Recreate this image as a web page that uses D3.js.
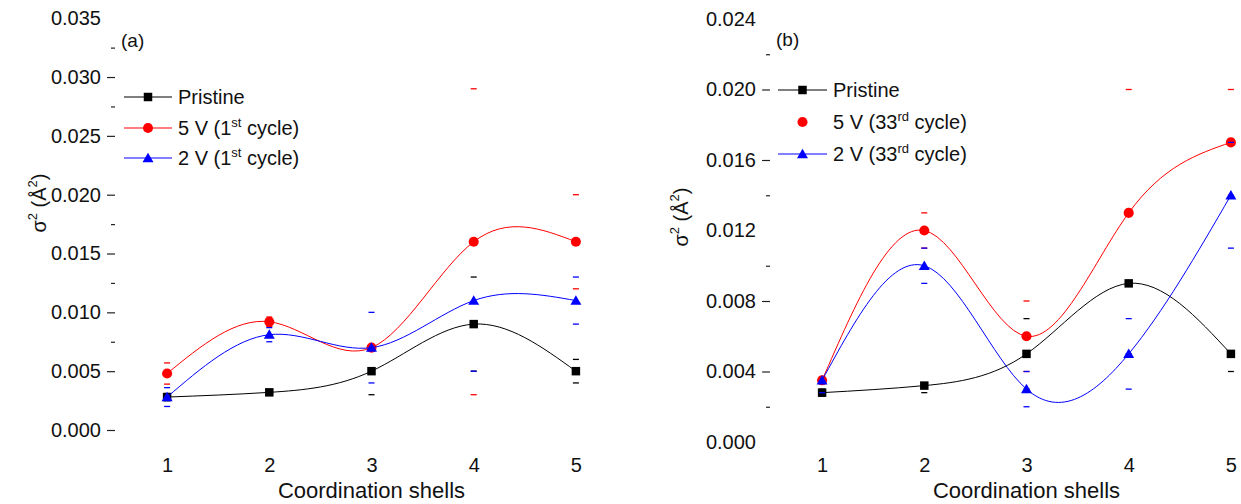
<!DOCTYPE html>
<html>
<head>
<meta charset="utf-8">
<script src="https://cdn.jsdelivr.net/npm/d3@7"></script>
<style>
  body { margin: 0; background: #fff; }
  text { font-family: "Liberation Sans", Arial, sans-serif; fill: #111; }
</style>
</head>
<body>
<svg id="chart" width="1241" height="504"></svg>
<script>
// Coordination shells (x categories)
const shells = [1, 2, 3, 4, 5];

// Panel (a): first cycle
const pristineA    = [0.0028, 0.0032, 0.0050, 0.0090, 0.0050];
const pristineErrA = [0.0003, 0.0002, 0.0020, 0.0040, 0.0010];
const v5A          = [0.0048, 0.0092, 0.0070, 0.0160, 0.0160];
const v5ErrLoA     = [0.0009, 0.0004, 0.0002, 0.0130, 0.0040];
const v5ErrHiA     = [0.0009, 0.0004, 0.0002, 0.0130, 0.0040];
const v2A          = [0.0028, 0.0081, 0.0070, 0.0110, 0.0110];
const v2ErrLoA     = [0.0008, 0.0006, 0.0030, 0.0060, 0.0020];
const v2ErrHiA     = [0.0008, 0.0006, 0.0030, 0.0000, 0.0020];

// Panel (b): 33rd cycle
const pristineB      = [0.0028, 0.0032, 0.0050, 0.0090, 0.0050];
const pristineErrLoB = [0.0002, 0.0004, 0.0020, 0.0040, 0.0010];
const pristineErrHiB = [0.0002, 0.0000, 0.0020, 0.0040, 0.0000];
const v5B            = [0.0035, 0.0120, 0.0060, 0.0130, 0.0170];
const v5ErrLoB       = [0.0002, 0.0010, 0.0020, 0.0000, 0.0030];
const v5ErrHiB       = [0.0002, 0.0010, 0.0020, 0.0070, 0.0030];
const v2B            = [0.0035, 0.0100, 0.0030, 0.0050, 0.0140];
const v2ErrLoB       = [0.0007, 0.0010, 0.0010, 0.0020, 0.0030];
const v2ErrHiB       = [0.0000, 0.0010, 0.0010, 0.0020, 0.0030];

// Y tick labels and tick marks
const yLabelsA = [0, 0.005, 0.010, 0.015, 0.020, 0.025, 0.030, 0.035];
const yMajorA  = [0, 0.005, 0.010, 0.015, 0.020, 0.025, 0.030];
const yMinorA  = [0.0075, 0.0125, 0.0175, 0.0275, 0.0325];
const yLabelsB = [0, 0.004, 0.008, 0.012, 0.016, 0.020, 0.024];
const yMajorB  = [0.004, 0.008, 0.016, 0.020];
const yMinorB  = [0.002, 0.010, 0.014, 0.022];

const svg = d3.select("#chart");
svg.append("rect").attr("width", 1241).attr("height", 504).attr("fill", "#fff");

const COLORS = { pristine: "#000000", v5: "#ff0000", v2: "#0000ff" };

const panels = [
  {
    tag: "(a)", tagX: 121, tagY: 47,
    xRange: [116, 627], yDomain: [0, 0.035], yRange: [430, 18.2],
    labels: yLabelsA, major: yMajorA, minor: yMinorA,
    titleX: 46, titleY: 203,
    legend: { x0: 124, x1: 172, tx: 178, rows: [97, 128, 158] },
    cycle: ["1", "st"],
    series: [
      { key: "pristine", name: "Pristine", vals: pristineA, lo: pristineErrA, hi: pristineErrA, shape: "square", legendLine: true },
      { key: "v5", name: "5 V", vals: v5A, lo: v5ErrLoA, hi: v5ErrHiA, shape: "circle", legendLine: true },
      { key: "v2", name: "2 V", vals: v2A, lo: v2ErrLoA, hi: v2ErrHiA, shape: "triangle", legendLine: true }
    ]
  },
  {
    tag: "(b)", tagX: 776, tagY: 46,
    xRange: [771, 1282], yDomain: [0, 0.024], yRange: [442, 19],
    labels: yLabelsB, major: yMajorB, minor: yMinorB,
    titleX: 688, titleY: 217,
    legend: { x0: 778, x1: 827, tx: 833, rows: [90, 122, 154] },
    cycle: ["33", "rd"],
    series: [
      { key: "pristine", name: "Pristine", vals: pristineB, lo: pristineErrLoB, hi: pristineErrHiB, shape: "square", legendLine: true },
      { key: "v5", name: "5 V", vals: v5B, lo: v5ErrLoB, hi: v5ErrHiB, shape: "circle", legendLine: false },
      { key: "v2", name: "2 V", vals: v2B, lo: v2ErrLoB, hi: v2ErrHiB, shape: "triangle", legendLine: true }
    ]
  }
];

const symbolFor = {
  square: d3.symbol().type(d3.symbolSquare).size(72),
  circle: d3.symbol().type(d3.symbolCircle).size(80),
  triangle: d3.symbol().type(d3.symbolTriangle).size(52)
};

panels.forEach(p => {
  const x = d3.scaleLinear().domain([0.5, 5.5]).range(p.xRange);
  const y = d3.scaleLinear().domain(p.yDomain).range(p.yRange);
  const g = svg.append("g");
  const axisX = p.xRange[0];

  // Y tick labels
  g.append("g").attr("transform", `translate(${axisX},0)`)
    .call(d3.axisLeft(y).tickValues(p.labels).tickSize(0).tickPadding(15).tickFormat(d3.format(".3f")))
    .call(a => a.select(".domain").remove())
    .call(a => a.selectAll("text").attr("font-size", 20).attr("fill", "#111").attr("font-family", '"Liberation Sans", Arial, sans-serif'));

  // Major and minor tick marks
  g.append("g").attr("transform", `translate(${axisX - 1},0)`)
    .call(d3.axisLeft(y).tickValues(p.major).tickSize(8).tickFormat(""))
    .call(a => a.select(".domain").remove())
    .call(a => a.selectAll("line").attr("stroke", "#222").attr("stroke-width", 1.2));
  g.append("g").attr("transform", `translate(${axisX - 1},0)`)
    .call(d3.axisLeft(y).tickValues(p.minor).tickSize(4).tickFormat(""))
    .call(a => a.select(".domain").remove())
    .call(a => a.selectAll("line").attr("stroke", "#222").attr("stroke-width", 1.2));

  // X tick labels
  g.append("g").attr("transform", "translate(0,458)")
    .call(d3.axisBottom(x).tickValues(shells).tickSize(0).tickPadding(0).tickFormat(d3.format("d")))
    .call(a => a.select(".domain").remove())
    .call(a => a.selectAll("text").attr("font-size", 20).attr("fill", "#111").attr("font-family", '"Liberation Sans", Arial, sans-serif'));

  // X axis title
  g.append("text").attr("x", x(3)).attr("y", 498).attr("text-anchor", "middle")
    .attr("font-size", 22).text("Coordination shells");

  // Y axis title: σ² (Å²)
  const yt = g.append("text").attr("transform", `translate(${p.titleX},${p.titleY}) rotate(-90)`)
    .attr("text-anchor", "middle").attr("font-size", 20);
  yt.append("tspan").text("σ");
  yt.append("tspan").attr("font-size", 13).attr("dy", -9).text("2");
  yt.append("tspan").attr("dy", 9).text(" (Å");
  yt.append("tspan").attr("font-size", 13).attr("dy", -9).text("2");
  yt.append("tspan").attr("dy", 9).text(")");

  // Panel tag
  g.append("text").attr("x", p.tagX).attr("y", p.tagY).attr("font-size", 19).text(p.tag);

  const line = d3.line().x((d, i) => x(shells[i])).y(d => y(d)).curve(d3.curveNatural);

  // Series: curve, error caps, markers
  p.series.forEach(s => {
    const c = COLORS[s.key];
    const sg = g.append("g");
    sg.append("path").attr("d", line(s.vals)).attr("fill", "none")
      .attr("stroke", c).attr("stroke-width", 1);

    const caps = [];
    s.vals.forEach((v, i) => {
      if (s.lo[i] > 0) caps.push({ i, v: v - s.lo[i] });
      if (s.hi[i] > 0) caps.push({ i, v: v + s.hi[i] });
    });
    sg.selectAll("line.cap").data(caps).join("line").attr("class", "cap")
      .attr("x1", d => x(shells[d.i]) - 3).attr("x2", d => x(shells[d.i]) + 3)
      .attr("y1", d => y(d.v)).attr("y2", d => y(d.v))
      .attr("stroke", c).attr("stroke-width", 1.3);

    sg.selectAll("path.mk").data(s.vals).join("path").attr("class", "mk")
      .attr("d", symbolFor[s.shape])
      .attr("transform", (d, i) => `translate(${x(shells[i])},${y(d) + (s.shape === "triangle" ? 1 : 0)})`)
      .attr("fill", c);
  });

  // Legend
  const L = p.legend;
  p.series.forEach((s, k) => {
    const c = COLORS[s.key];
    const ry = L.rows[k];
    if (s.legendLine) {
      g.append("line").attr("x1", L.x0).attr("x2", L.x1).attr("y1", ry).attr("y2", ry)
        .attr("stroke", c).attr("stroke-width", 1.2);
    }
    g.append("path").attr("d", symbolFor[s.shape])
      .attr("transform", `translate(${(L.x0 + L.x1) / 2},${ry + (s.shape === "triangle" ? 1 : 0)})`)
      .attr("fill", c);
    const t = g.append("text").attr("x", L.tx).attr("y", ry).attr("dy", "0.35em").attr("font-size", 20);
    if (s.key === "pristine") {
      t.text(s.name);
    } else {
      t.append("tspan").text(`${s.name} (${p.cycle[0]}`);
      t.append("tspan").attr("font-size", 13).attr("dy", -8).text(p.cycle[1]);
      t.append("tspan").attr("dy", 8).text(" cycle)");
    }
  });
});
</script>
</body>
</html>
